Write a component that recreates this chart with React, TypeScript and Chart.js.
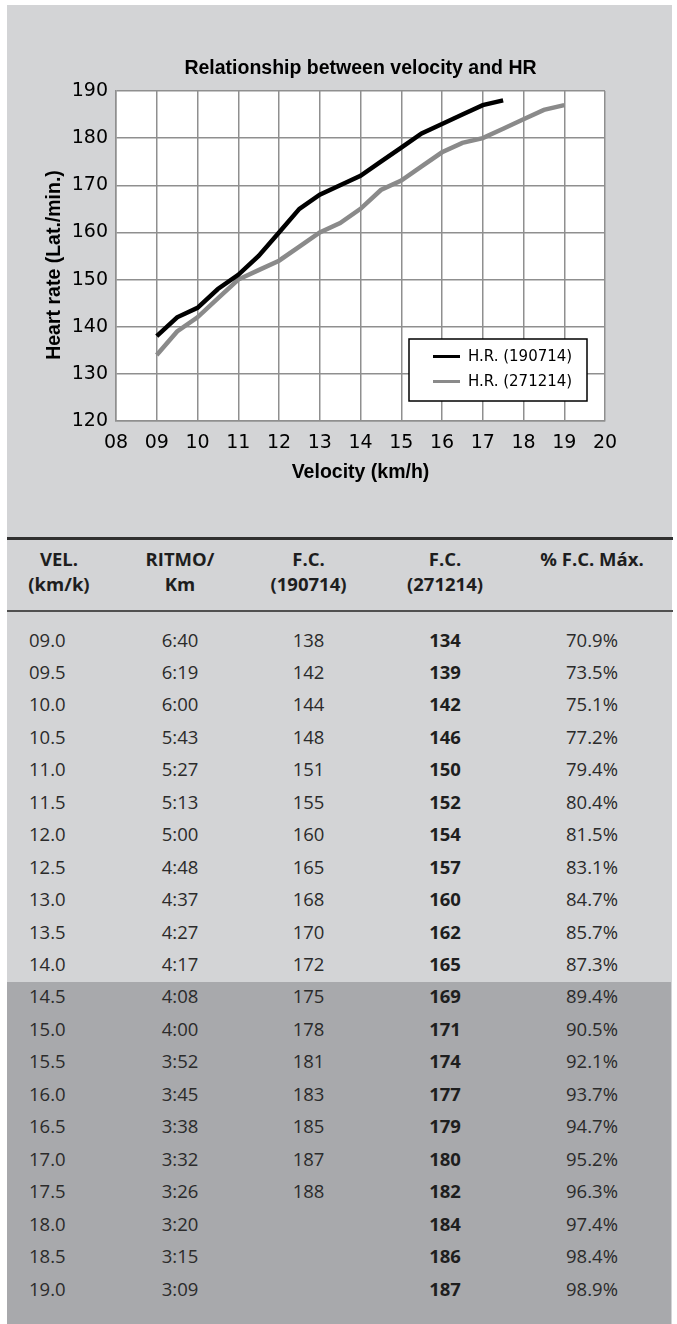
import React, { useEffect, useRef } from 'react';
import { Chart, registerables } from 'chart.js';

Chart.register(...registerables);

// ---------- data ----------
const velocityLabels = ['09.0', '09.5', '10.0', '10.5', '11.0', '11.5', '12.0', '12.5', '13.0', '13.5', '14.0', '14.5', '15.0', '15.5', '16.0', '16.5', '17.0', '17.5', '18.0', '18.5', '19.0'];
const velocities = [9, 9.5, 10, 10.5, 11, 11.5, 12, 12.5, 13, 13.5, 14, 14.5, 15, 15.5, 16, 16.5, 17, 17.5, 18, 18.5, 19];
const paceLabels = ['6:40', '6:19', '6:00', '5:43', '5:27', '5:13', '5:00', '4:48', '4:37', '4:27', '4:17', '4:08', '4:00', '3:52', '3:45', '3:38', '3:32', '3:26', '3:20', '3:15', '3:09'];
const hr190714 = [138, 142, 144, 148, 151, 155, 160, 165, 168, 170, 172, 175, 178, 181, 183, 185, 187, 188];
const hr271214 = [134, 139, 142, 146, 150, 152, 154, 157, 160, 162, 165, 169, 171, 174, 177, 179, 180, 182, 184, 186, 187];
const pctMax = ['70.9%', '73.5%', '75.1%', '77.2%', '79.4%', '80.4%', '81.5%', '83.1%', '84.7%', '85.7%', '87.3%', '89.4%', '90.5%', '92.1%', '93.7%', '94.7%', '95.2%', '96.3%', '97.4%', '98.4%', '98.9%'];
const xTickLabels = ['08', '09', '10', '11', '12', '13', '14', '15', '16', '17', '18', '19', '20'];
const seriesLabels = ['H.R. (190714)', 'H.R. (271214)'];
const headerLines = [
  ['VEL.', '(km/k)'],
  ['RITMO/', 'Km'],
  ['F.C.', '(190714)'],
  ['F.C.', '(271214)'],
  ['% F.C. Máx.', ''],
];
const chartTitle = 'Relationship between velocity and HR';
const xAxisTitle = 'Velocity (km/h)';
const yAxisTitle = 'Heart rate (Lat./min.)';

// ---------- styles ----------
const LIGHT = '#d3d4d6';
const DARK = '#a8a9ac';
const BLACK_LINE = '#000000';
const GRAY_LINE = '#8a8a8a';
const GRID = '#8f8f8f';
const BOLD_FONT = '"Liberation Sans", Arial, sans-serif';
const TICK_FONT = '"DejaVu Sans", sans-serif';
const TABLE_FONT = '"Open Sans", "Noto Sans", sans-serif';

const plotBg = {
  id: 'plotBg',
  beforeDraw(chart: any) {
    const { ctx, chartArea } = chart;
    ctx.save();
    ctx.fillStyle = '#ffffff';
    ctx.fillRect(chartArea.left, chartArea.top, chartArea.right - chartArea.left, chartArea.bottom - chartArea.top);
    ctx.restore();
  },
};

const decor = {
  id: 'decor',
  afterDraw(chart: any) {
    const { ctx, chartArea } = chart;
    // y axis title
    ctx.save();
    ctx.fillStyle = '#000';
    ctx.font = `bold 19.5px ${BOLD_FONT}`;
    ctx.textAlign = 'center';
    ctx.textBaseline = 'alphabetic';
    ctx.translate(chartArea.left - 56, (chartArea.top + chartArea.bottom) / 2 + 9);
    ctx.rotate(-Math.PI / 2);
    ctx.fillText(yAxisTitle, 0, 0);
    ctx.restore();

    // legend box
    const w = 178;
    const h = 62;
    const bx = chartArea.right - 18 - w;
    const by = chartArea.bottom - 20 - h;
    ctx.save();
    ctx.fillStyle = '#fff';
    ctx.fillRect(bx, by, w, h);
    ctx.strokeStyle = '#000';
    ctx.lineWidth = 1.5;
    ctx.strokeRect(bx, by, w, h);
    const ds = chart.data.datasets;
    const rows = [17.5, 42.5];
    ds.forEach((d: any, i: number) => {
      const y = by + rows[i];
      ctx.strokeStyle = d.borderColor;
      ctx.lineWidth = 3;
      ctx.beginPath();
      ctx.moveTo(bx + 24, y);
      ctx.lineTo(bx + 51, y);
      ctx.stroke();
      ctx.fillStyle = '#000';
      ctx.font = `15px ${TICK_FONT}`;
      ctx.textAlign = 'left';
      ctx.textBaseline = 'middle';
      ctx.fillText(d.label, bx + 59, y + 1);
    });
    ctx.restore();
  },
};

function HRChart() {
  const ref = useRef<HTMLCanvasElement | null>(null);
  useEffect(() => {
    if (!ref.current) return;
    const chart = new Chart(ref.current, {
      type: 'line',
      data: {
        datasets: [
          {
            label: seriesLabels[0],
            data: hr190714.map((y, i) => ({ x: velocities[i], y })),
            borderColor: BLACK_LINE,
            backgroundColor: BLACK_LINE,
            borderWidth: 4.5,
            pointRadius: 0,
            tension: 0,
            fill: false,
          },
          {
            label: seriesLabels[1],
            data: hr271214.map((y, i) => ({ x: velocities[i], y })),
            borderColor: GRAY_LINE,
            backgroundColor: GRAY_LINE,
            borderWidth: 4.5,
            pointRadius: 0,
            tension: 0,
            fill: false,
          },
        ],
      },
      options: {
        animation: false,
        responsive: false,
        maintainAspectRatio: false,
        layout: { padding: { left: 0, right: 67, top: 0, bottom: 14 } },
        plugins: {
          legend: { display: false },
          tooltip: { enabled: false },
          title: {
            display: true,
            text: chartTitle,
            fullSize: false,
            color: '#000',
            font: { family: BOLD_FONT, size: 19.5, weight: 'bold' },
            padding: { top: 51.5, bottom: 11.1 },
          },
        },
        scales: {
          x: {
            type: 'linear',
            min: 8,
            max: 20,
            afterFit: (s: any) => { s.height = 70; },
            ticks: {
              stepSize: 1,
              autoSkip: false,
              maxRotation: 0,
              padding: 10.6,
              color: '#000',
              font: { family: TICK_FONT, size: 19 },
              callback: (v: any) => xTickLabels[Math.round(Number(v) - 8)],
            },
            grid: { color: GRID, lineWidth: 1.5, drawTicks: false },
            border: { color: GRID, width: 1.5 },
            title: {
              display: true,
              text: xAxisTitle,
              color: '#000',
              font: { family: BOLD_FONT, size: 19.5, weight: 'bold' },
              padding: { top: 0, bottom: 6.3 },
            },
          },
          y: {
            min: 120,
            max: 190,
            afterFit: (s: any) => { s.width = 109; },
            ticks: {
              stepSize: 10,
              padding: 8,
              color: '#000',
              font: { family: TICK_FONT, size: 19 },
            },
            grid: { color: GRID, lineWidth: 1.5, drawTicks: false },
            border: { color: GRID, width: 1.5 },
          },
        },
      } as any,
      plugins: [plotBg, decor],
    });
    return () => chart.destroy();
  }, []);
  return <canvas ref={ref} width={665} height={500} style={{ position: 'absolute', left: 7, top: 5, width: 665, height: 500, display: 'block' }} />;
}

const colCenters = [59, 180, 308.5, 445, 592];
const ROW0_TOP = 627.5;
const ROW_STEP = 32.45;
const FS = 18.5;

function Cell({ x, top, text, bold, align }: { x: number; top: number; text: string; bold?: boolean; align?: 'left' | 'center' }) {
  const isLeft = align === 'left';
  return (
    <div
      style={{
        position: 'absolute',
        left: isLeft ? x : x - 70,
        width: isLeft ? 120 : 140,
        top,
        textAlign: isLeft ? 'left' : 'center',
        fontFamily: TABLE_FONT,
        fontSize: FS,
        lineHeight: '24px',
        fontWeight: bold ? 700 : 400,
        color: bold ? '#1e1e1e' : '#2b2b2b',
        whiteSpace: 'nowrap',
      }}
    >
      {text}
    </div>
  );
}

export default function App() {
  return (
    <div style={{ position: 'absolute', left: 0, top: 0, width: 677, height: 1324, overflow: 'hidden' }}>
      <div style={{ position: 'absolute', left: 7, top: 5, width: 665, height: 1319, background: LIGHT }} />
      <div style={{ position: 'absolute', left: 7, top: 982, width: 664, height: 342, background: DARK }} />
      <HRChart />
      <div style={{ position: 'absolute', left: 7, top: 537, width: 666, height: 2.5, background: '#303030' }} />
      <div style={{ position: 'absolute', left: 7, top: 609.5, width: 666, height: 2, background: '#505050' }} />
      {headerLines.map((lines, c) => (
        <div
          key={'h' + c}
          style={{
            position: 'absolute',
            left: colCenters[c] - 80,
            width: 160,
            top: 546.3,
            textAlign: 'center',
            fontFamily: TABLE_FONT,
            fontSize: FS,
            lineHeight: '25px',
            fontWeight: 700,
            color: '#1e1e1e',
            whiteSpace: 'nowrap',
          }}
        >
          <div>{lines[0]}</div>
          <div>{lines[1]}</div>
        </div>
      ))}
      {velocityLabels.map((v, i) => {
        const top = ROW0_TOP + i * ROW_STEP;
        return (
          <React.Fragment key={'r' + i}>
            <Cell x={29} top={top} text={v} align="left" />
            <Cell x={colCenters[1]} top={top} text={paceLabels[i]} />
            <Cell x={colCenters[2]} top={top} text={hr190714[i] !== undefined ? String(hr190714[i]) : ''} />
            <Cell x={colCenters[3]} top={top} text={String(hr271214[i])} bold />
            <Cell x={colCenters[4]} top={top} text={pctMax[i]} />
          </React.Fragment>
        );
      })}
    </div>
  );
}
